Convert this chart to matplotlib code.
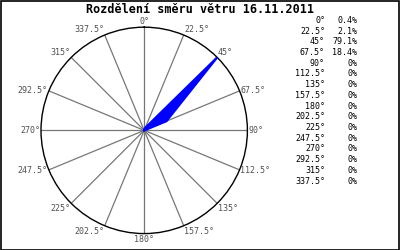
import numpy as np
import matplotlib.pyplot as plt

# wind direction distribution, 16.11.2011
directions = [0, 22.5, 45, 67.5, 90, 112.5, 135, 157.5,
              180, 202.5, 225, 247.5, 270, 292.5, 315, 337.5]
shares = [0.4, 2.1, 79.1, 18.4, 0, 0, 0, 0, 0, 0, 0, 0, 0, 0, 0, 0]
share_labels = ['0.4%', '2.1%', '79.1%', '18.4%', '0%', '0%', '0%', '0%',
                '0%', '0%', '0%', '0%', '0%', '0%', '0%', '0%']
title = 'Rozdělení směru větru 16.11.2011'


def fmt_deg(d):
    """format angle without trailing .0"""
    return ('%g' % d) + '°'


fig = plt.figure(figsize=(4, 2.5), dpi=100)
fig.patch.set_facecolor('white')

# black frame around the whole picture
frame = plt.Rectangle((0.0015, 0.002), 0.996, 0.995, transform=fig.transFigure,
                      fill=False, edgecolor='black', linewidth=1.2)
fig.add_artist(frame)

fig.text(0.5, 0.962, title, ha='center', va='center', fontsize=8.5,
         fontweight='bold', family='DejaVu Sans Mono')

ax = fig.add_axes([0.1025, 0.0645, 0.516, 0.828], projection='polar')
ax.set_theta_zero_location('N')
ax.set_theta_direction(-1)
rmax = max(shares)
ax.set_ylim(0, rmax)
ax.set_yticks([])
ax.set_xticks([])
ax.grid(False)
ax.spines['polar'].set_color('black')
ax.spines['polar'].set_linewidth(1.0)

theta = np.radians(directions)
# spokes
for t in theta:
    ax.plot([t, t], [0, rmax], color='#777777', linewidth=0.9, zorder=1)

# filled rose
th_closed = np.append(theta, theta[0])
r_closed = np.append(shares, shares[0])
ax.fill(th_closed, r_closed, color='#0000ff', zorder=3, linewidth=0)
ax.plot(th_closed, r_closed, color='#0000ff', linewidth=1.6, zorder=3,
        solid_joinstyle='miter')

# direction labels just outside the circle
for t, d in zip(theta, directions):
    s, c = np.sin(t), np.cos(t)
    ha = 'left' if s > 0.1 else ('right' if s < -0.1 else 'center')
    va = 'bottom' if c > 0.5 else ('top' if c < -0.5 else 'center')
    ax.text(t, rmax * 1.01, fmt_deg(d), ha=ha, va=va,
            fontsize=6, color='#505050', family='DejaVu Sans Mono')

# table on the right
y0 = 1 - 20.5 / 250
dy = 10.7 / 250
for i, (d, s) in enumerate(zip(directions, share_labels)):
    y = y0 - i * dy
    fig.text(325 / 400, y, fmt_deg(d), ha='right', va='center',
             fontsize=6, family='DejaVu Sans Mono')
    fig.text(357 / 400, y, s, ha='right', va='center',
             fontsize=6, family='DejaVu Sans Mono')

fig.savefig('out.png', dpi=100)
